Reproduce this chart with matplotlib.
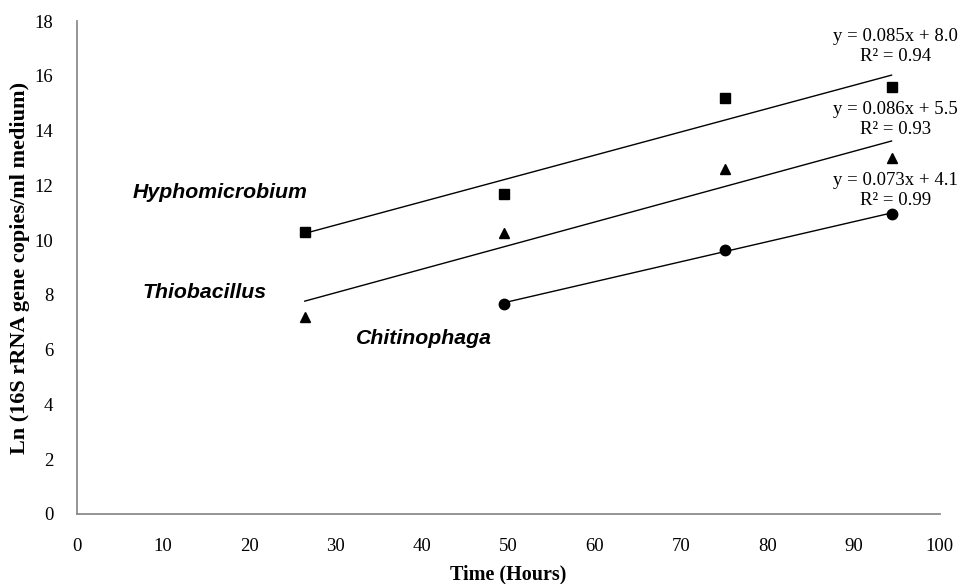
import matplotlib.pyplot as plt
import numpy as np

# sampling times (hours)
hours = [26.4, 49.5, 75.1, 94.4]
hours_chit = [49.5, 75.1, 94.4]

# Ln(16S rRNA gene copies / ml medium)
hyph = [10.3, 11.7, 15.2, 15.6]
thio = [7.2, 10.25, 12.6, 13.0]
chit = [7.68, 9.62, 10.95]

# linear trend lines as printed on the chart
slopes = [0.085, 0.086, 0.073]
intercepts = [8.0, 5.5, 4.1]
r2 = [0.94, 0.93, 0.99]
eq_pos = [(94.9, 17.08), (94.9, 14.4), (94.9, 11.82)]

names = ['Hyphomicrobium', 'Thiobacillus', 'Chitinophaga']
name_pos = [(6.4, 11.75), (7.6, 8.1), (32.3, 6.42)]

serif = 'Liberation Serif'
sans = 'Liberation Sans'

fig = plt.figure(figsize=(9.62, 5.84), dpi=100)
ax = fig.add_axes([0.080, 0.120, 0.897, 0.844])

series = [(hours, hyph, 's', 7.5), (hours, thio, '^', 7.5), (hours_chit, chit, 'o', 7.5)]
for i, (xs, ys, mk, ms) in enumerate(series):
    ax.plot(xs, ys, linestyle='none', marker=mk, markersize=ms, color='black', zorder=3)
    xl = np.array([min(xs), max(xs)])
    ax.plot(xl, slopes[i] * xl + intercepts[i], color='black', linewidth=1.0, zorder=2)
    ex, ey = eq_pos[i]
    ax.text(ex, ey, 'y = %.3fx + %.1f\nR² = %.2f' % (slopes[i], intercepts[i], r2[i]),
            ha='center', va='center', fontsize=13.5, family=serif, linespacing=1.25)
    nx, ny = name_pos[i]
    ax.text(nx, ny, names[i], ha='left', va='center', fontsize=15.3, family=sans,
            fontweight='bold', style='italic')

ax.set_xlim(0, 100)
ax.set_ylim(0, 18)
ax.set_xticks(np.arange(0, 101, 10))
ax.set_yticks(np.arange(0, 19, 2))
for lab in ax.get_xticklabels() + ax.get_yticklabels():
    lab.set_family(serif)
    lab.set_fontsize(13.5)
ax.tick_params(axis='x', length=0, pad=17)
ax.tick_params(axis='y', length=0, pad=17)

for s in ['top', 'right']:
    ax.spines[s].set_visible(False)
for s in ['left', 'bottom']:
    ax.spines[s].set_color('#8c8c8c')
    ax.spines[s].set_linewidth(1.3)

ax.set_xlabel('Time (Hours)', family=serif, fontweight='bold', fontsize=14.5, labelpad=7)
ax.set_ylabel('Ln (16S rRNA gene copies/ml medium)', family=serif, fontweight='bold',
              fontsize=16, labelpad=3)

fig.savefig('out.png', dpi=100)
